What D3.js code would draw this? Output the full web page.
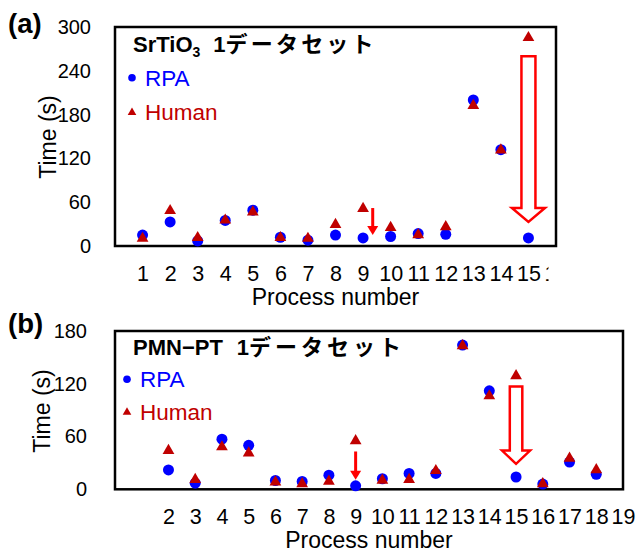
<!DOCTYPE html>
<meta charset="utf-8">
<style>
body { margin: 0; background: #fff; }
text { font-family: "Liberation Sans", Arial, "Noto Sans CJK JP", sans-serif; }
.box { fill: none; stroke: #000; stroke-width: 2.5px; }
.axis path { display: none; }
.axis text { fill: #000; }
</style>
<script src="https://d3js.org/d3.v7.min.js"></script>
<div id="chart"></div>
<script>

// ---- panel (a): SrTiO3 ----
var procA = [1, 2, 3, 4, 5, 6, 7, 8, 9, 10, 11, 12, 13, 14, 15];
var rpaA = [15, 33, 7, 35, 49, 12, 8, 15, 11, 13, 17, 16, 200, 132, 11];
var humanA = [9, 47, 10, 34, 45, 10, 9, 28, 50, 24, 14, 25, 191, 130, 284];
var xTicksA = [1, 2, 3, 4, 5, 6, 7, 8, 9, 10, 11, 12, 13, 14, 15, 16];
var yTicksA = [0, 60, 120, 180, 240, 300];
// small arrow: [x, from, to]; big hollow arrow: [x, top, headBase, tip]
var smallArrowA = [9.35, 52, 15];
var bigArrowA = [15, 260, 52, 33];

// ---- panel (b): PMN-PT ----
var procB = [2, 3, 4, 5, 6, 7, 8, 9, 10, 11, 12, 13, 14, 15, 16, 17, 18];
var rpaB = [22, 7, 57, 50, 10, 9, 16, 4, 12, 18, 18, 164, 112, 14, 6, 31, 17];
var humanB = [43, 10, 47, 40, 7, 5, 8, 54, 9, 10, 20, 162, 105, 128, 5, 34, 21];
var xTicksB = [2, 3, 4, 5, 6, 7, 8, 9, 10, 11, 12, 13, 14, 15, 16, 17, 18, 19];
var yTicksB = [0, 60, 120, 180];
var smallArrowB = [9, 43, 11];
var bigArrowB = [15, 117, 44, 29];

var svg = d3.select("#chart").append("svg")
  .attr("width", 636)
  .attr("height", 554);

svg.append("defs").append("clipPath")
  .attr("id", "clipA")
  .append("rect")
  .attr("x", 0).attr("y", 0)
  .attr("width", 548.5).attr("height", 554);

var triangle = d3.symbol().type(d3.symbolTriangle).size(60);
var legendTri = d3.symbol().type(d3.symbolTriangle).size(32);

function drawPanel(p) {
  var x = d3.scaleLinear().domain(p.xDomain).range([p.left, p.right]);
  var y = d3.scaleLinear().domain(p.yDomain).range([p.bottom, p.top]);
  var g = svg.append("g");

  // x axis (labels only)
  var xa = g.append("g")
    .attr("class", "axis")
    .attr("transform", "translate(0," + p.bottom + ")")
    .call(d3.axisBottom(x).tickValues(p.xTicks).tickSize(0).tickPadding(19.5).tickFormat(d3.format("d")));
  xa.selectAll("text").style("font-size", "21.5px");
  if (p.clip) xa.attr("clip-path", "url(#" + p.clip + ")");

  // y axis (labels only)
  var ya = g.append("g")
    .attr("class", "axis")
    .attr("transform", "translate(" + p.left + ",0)")
    .call(d3.axisLeft(y).tickValues(p.yTicks).tickSize(0).tickPadding(p.yPad));
  ya.selectAll("text").style("font-size", "20px");

  // frame
  g.append("rect")
    .attr("class", "box")
    .attr("x", p.left).attr("y", p.top)
    .attr("width", p.right - p.left)
    .attr("height", p.bottom - p.top);

  // axis titles
  g.append("text")
    .attr("x", (p.left + p.right) / 2)
    .attr("y", p.xTitleY)
    .attr("text-anchor", "middle")
    .style("font-size", "23px")
    .text("Process number");

  g.append("text")
    .attr("transform", "translate(" + p.yTitleX + "," + p.yTitleY + ") rotate(-90)")
    .attr("text-anchor", "middle")
    .style("font-size", "23px")
    .text("Time (s)");

  // panel tag
  g.append("text")
    .attr("x", 8).attr("y", p.tagY)
    .style("font-size", "27.5px")
    .style("font-weight", "bold")
    .text(p.tag);

  // title inside box
  var t = g.append("text")
    .attr("x", 133).attr("y", p.titleY)
    .style("font-size", "22px")
    .style("font-weight", "bold");
  p.title(t);

  // legend
  g.append("circle")
    .attr("cx", p.legX).attr("cy", p.legY1)
    .attr("r", 3.8)
    .attr("fill", "#0000ff");
  g.append("text")
    .attr("x", p.legX + 13).attr("y", p.legY1 + 8)
    .style("font-size", "22.5px")
    .attr("fill", "#0000ff")
    .text("RPA");
  g.append("path")
    .attr("d", legendTri)
    .attr("transform", "translate(" + p.legX + "," + p.legY2 + ")")
    .attr("fill", "#c00000");
  g.append("text")
    .attr("x", p.legX + 13).attr("y", p.legY2 + 7.5)
    .style("font-size", "22.5px")
    .attr("fill", "#c00000")
    .text("Human");

  // RPA circles
  g.selectAll("circle.rpa")
    .data(p.rpa)
    .join("circle")
    .attr("class", "rpa")
    .attr("cx", function(d, i) { return x(p.proc[i]); })
    .attr("cy", function(d) { return y(d); })
    .attr("r", 5.5)
    .attr("fill", "#0000ff");

  // Human triangles
  g.selectAll("path.human")
    .data(p.human)
    .join("path")
    .attr("class", "human")
    .attr("d", triangle)
    .attr("transform", function(d, i) { return "translate(" + x(p.proc[i]) + "," + (y(d) - 1) + ")"; })
    .attr("fill", "#c00000");

  // small solid arrow
  var sa = p.smallArrow;
  var sx = x(sa[0]), sy0 = y(sa[1]), sy1 = y(sa[2]);
  g.append("line")
    .attr("x1", sx).attr("x2", sx)
    .attr("y1", sy0).attr("y2", sy1 - 8)
    .attr("stroke", "#ff0000")
    .attr("stroke-width", 3);
  g.append("path")
    .attr("d", "M" + (sx - 5.5) + "," + (sy1 - 9) + "L" + (sx + 5.5) + "," + (sy1 - 9) + "L" + sx + "," + sy1 + "Z")
    .attr("fill", "#ff0000");

  // big hollow arrow
  var ba = p.bigArrow;
  var bx = x(ba[0]), top = y(ba[1]), base = y(ba[2]), tip = y(ba[3]);
  var sw = p.shaftW / 2, hw = p.headW / 2;
  g.append("path")
    .attr("d", "M" + (bx - sw) + "," + top +
      "L" + (bx + sw) + "," + top +
      "L" + (bx + sw) + "," + base +
      "L" + (bx + hw) + "," + base +
      "L" + bx + "," + tip +
      "L" + (bx - hw) + "," + base +
      "L" + (bx - sw) + "," + base + "Z")
    .attr("fill", "#fff")
    .attr("stroke", "#ff0000")
    .attr("stroke-width", 2.5);
}

drawPanel({
  proc: procA, rpa: rpaA, human: humanA,
  xTicks: xTicksA, yTicks: yTicksA,
  xDomain: [0, 16], yDomain: [0, 300],
  left: 115, right: 556, top: 27, bottom: 246,
  yPad: 24, clip: "clipA",
  xTitleY: 305, yTitleX: 56, yTitleY: 137,
  tag: "(a)", tagY: 33, titleY: 52,
  title: function(t) {
    t.append("tspan").text("SrTiO");
    t.append("tspan").attr("dy", 5).style("font-size", "14px").text("3");
    t.append("tspan").attr("dy", -5).attr("dx", 13).text("1");
    t.append("tspan").style("letter-spacing", "3.2px").text("データセット");
  },
  legX: 132, legY1: 77.7, legY2: 112.5,
  smallArrow: smallArrowA, bigArrow: bigArrowA,
  shaftW: 14, headW: 33
});

drawPanel({
  proc: procB, rpa: rpaB, human: humanB,
  xTicks: xTicksB, yTicks: yTicksB,
  xDomain: [0, 19], yDomain: [0, 180],
  left: 115, right: 623, top: 331, bottom: 489.3,
  yPad: 28, clip: null,
  xTitleY: 548, yTitleX: 50, yTitleY: 411,
  tag: "(b)", tagY: 333, titleY: 355,
  title: function(t) {
    t.append("tspan").text("PMN\u2212PT");
    t.append("tspan").attr("dx", 14).text("1");
    t.append("tspan").style("letter-spacing", "4px").text("データセット");
  },
  legX: 127, legY1: 379.3, legY2: 412.3,
  smallArrow: smallArrowB, bigArrow: bigArrowB,
  shaftW: 12.5, headW: 28
});

</script>
